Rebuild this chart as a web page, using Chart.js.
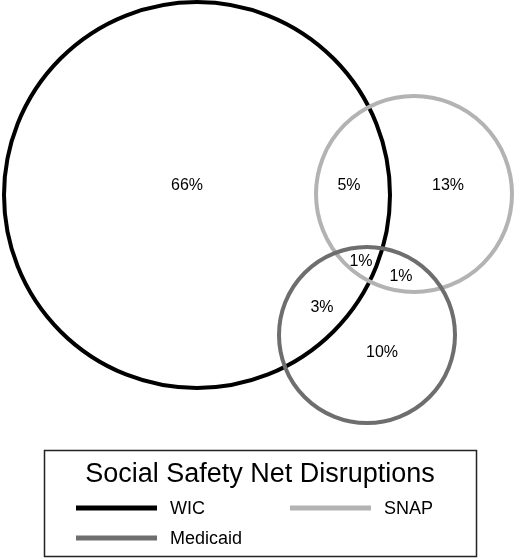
<!DOCTYPE html>
<html><head><meta charset="utf-8">
<script src="https://cdn.jsdelivr.net/npm/chart.js@4"></script>
<style>html,body{margin:0;padding:0;background:#fff}#w{width:520px;height:560px}</style>
</head><body><div id="w"><canvas id="c"></canvas></div>
<script>
const sets = ["WIC", "SNAP", "Medicaid"];
const setColors = ["#000000", "#b3b3b3", "#6e6e6e"];
const circleX = [197, 414, 367];
const circleY = [195, 194, 335];
const circleR = [193, 98, 88];
const regionLabels = ["66%", "5%", "13%", "1%", "1%", "3%", "10%"];
const regionX = [187, 349, 448, 361, 401, 322, 382];
const regionY = [186, 186, 186, 262, 277, 308, 353];
const legendTitle = "Social Safety Net Disruptions";

const vennPlugin = {
  id: 'venn',
  afterDatasetsDraw(chart) {
    const ctx = chart.ctx, xs = chart.scales.x, ys = chart.scales.y;
    const k = Math.abs(xs.getPixelForValue(1) - xs.getPixelForValue(0));
    ctx.save();
    chart.data.datasets.forEach((ds, i) => {
      const p = ds.data[0];
      ctx.strokeStyle = setColors[i]; ctx.lineWidth = 4;
      ctx.beginPath();
      ctx.arc(xs.getPixelForValue(p.x), ys.getPixelForValue(p.y), circleR[i] * k, 0, Math.PI * 2);
      ctx.stroke();
    });
    ctx.fillStyle = '#000';
    ctx.font = '16px "Liberation Sans", Arial, sans-serif';
    ctx.textAlign = 'center'; ctx.textBaseline = 'middle';
    regionLabels.forEach((t, i) => ctx.fillText(t, xs.getPixelForValue(regionX[i]), ys.getPixelForValue(regionY[i])));
    ctx.strokeStyle = '#222'; ctx.lineWidth = 1.5;
    ctx.strokeRect(44.5, 450.5, 432, 106);
    ctx.font = '27px "Liberation Sans", Arial, sans-serif';
    ctx.fillText(legendTitle, 260, 475);
    const pos = [[76, 508], [290, 508], [76, 538]];
    ctx.font = '18px "Liberation Sans", Arial, sans-serif';
    ctx.textAlign = 'left';
    sets.forEach((s, i) => {
      const [lx, ly] = pos[i];
      ctx.strokeStyle = setColors[i]; ctx.lineWidth = 5;
      ctx.beginPath(); ctx.moveTo(lx, ly); ctx.lineTo(lx + 81, ly); ctx.stroke();
      ctx.fillText(s, lx + 94, ly + 1);
    });
    ctx.restore();
  }
};

new Chart(document.getElementById('c'), {
  type: 'scatter',
  data: {
    datasets: sets.map((s, i) => ({
      label: s,
      data: [{x: circleX[i], y: circleY[i]}],
      pointRadius: 0,
      borderWidth: 0
    }))
  },
  options: {
    responsive: true, maintainAspectRatio: false, animation: false,
    layout: {padding: 0},
    plugins: {legend: {display: false}, tooltip: {enabled: false}},
    scales: {
      x: {type: 'linear', min: 0, max: 520, display: false},
      y: {type: 'linear', min: 0, max: 560, reverse: true, display: false}
    }
  },
  plugins: [vennPlugin]
});
</script></body></html>
